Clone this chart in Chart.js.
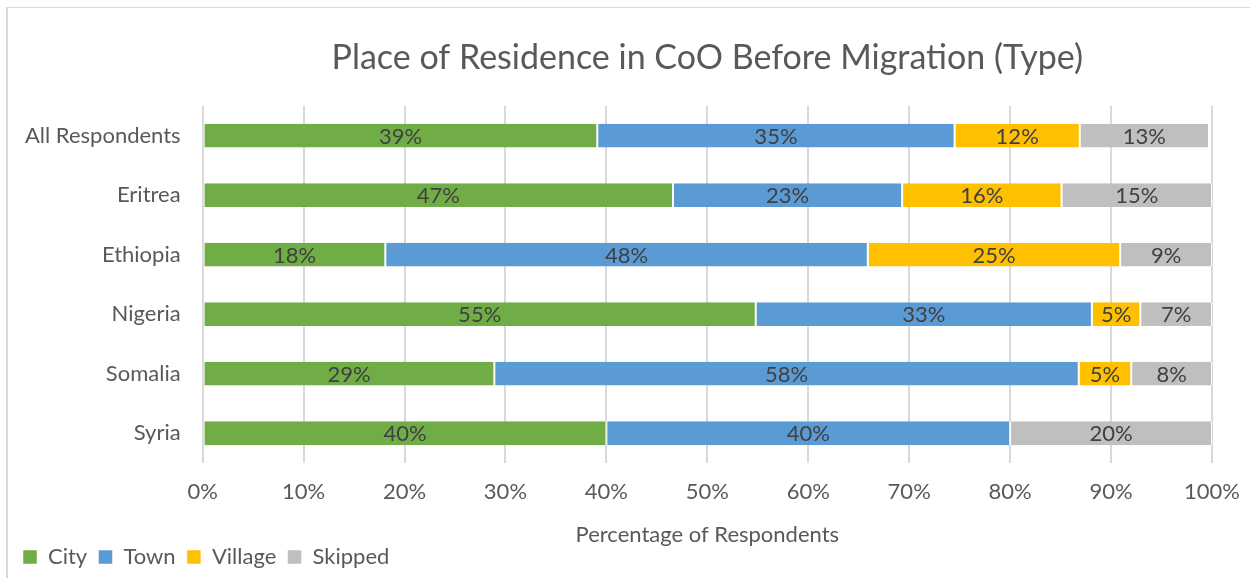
<!DOCTYPE html>
<html>
<head>
<meta charset="utf-8">
<script src="https://cdn.jsdelivr.net/npm/chart.js@4.4.1/dist/chart.umd.min.js"></script>
<style>
  html, body { margin: 0; padding: 0; background: #fff; }
  #wrap { position: relative; width: 1250px; height: 578px; }
  #frame {
    position: absolute; left: 6px; top: 7px; right: 0; bottom: 0;
    border-top: 1px solid #d9d9d9; border-left: 2px solid #d9d9d9;
    pointer-events: none;
  }
  canvas { position: absolute; left: 0; top: 0; }
</style>
</head>
<body>
<div id="wrap">
  <canvas id="chartCanvas" width="1250" height="578"></canvas>
  <div id="frame"></div>
</div>
<script>
// --- data (percent of respondents) ---
const countries = ["All Respondents", "Eritrea", "Ethiopia", "Nigeria", "Somalia", "Syria"];
const city = [39.1, 46.6, 18.1, 54.8, 28.9, 40.0];
const town = [35.4, 22.7, 47.8, 33.3, 57.9, 40.0];
const village = [12.4, 15.8, 25.0, 4.8, 5.2, 0];
const skipped = [12.8, 14.9, 9.1, 7.1, 8.0, 20.0];
const xTicks = [0, 10, 20, 30, 40, 50, 60, 70, 80, 90, 100];

const FONT = "Lato, 'Open Sans', sans-serif";
const canvas = document.getElementById("chartCanvas");

// --- centred percent labels inside each segment ---
const segmentLabels = {
  id: "segmentLabels",
  afterDatasetsDraw(chart) {
    const ctx = chart.ctx;
    ctx.save();
    ctx.font = "22px " + FONT;
    ctx.fillStyle = "#404040";
    ctx.textAlign = "center";
    ctx.textBaseline = "middle";
    chart.data.datasets.forEach((ds, i) => {
      const meta = chart.getDatasetMeta(i);
      if (meta.hidden) return;
      meta.data.forEach((bar, j) => {
        const v = ds.data[j];
        if (!v) return;
        const cx = (bar.x + bar.base) / 2;
        ctx.fillText(Math.round(v) + "%", cx, bar.y + 1);
      });
    });
    ctx.restore();
  }
};

function mkSet(label, data, color) {
  return {
    label,
    data,
    backgroundColor: color,
    borderColor: "#ffffff",
    borderWidth: { left: 1, right: 1, top: 0, bottom: 0 },
    borderSkipped: false,
    categoryPercentage: 1.0,
    barPercentage: 0.4
  };
}

new Chart(canvas, {
  type: "bar",
  data: {
    labels: countries,
    datasets: [
      mkSet("City", city, "#70ad47"),
      mkSet("Town", town, "#5b9bd5"),
      mkSet("Village", village, "#ffc000"),
      mkSet("Skipped", skipped, "#bfbfbf")
    ]
  },
  options: {
    indexAxis: "y",
    responsive: false,
    animation: false,
    layout: { padding: { left: 23, right: 38, top: 0, bottom: 0 } },
    plugins: {
      title: {
        display: true,
        fullSize: false,
        text: "Place of Residence in CoO Before Migration (Type)",
        color: "#595959",
        font: { family: FONT, size: 34, weight: "normal" },
        padding: { top: 38, bottom: 27 }
      },
      legend: {
        position: "bottom",
        align: "start",
        labels: {
          color: "#595959",
          font: { family: FONT, size: 22 },
          boxWidth: 14,
          boxHeight: 14,
          padding: 0,
          useBorderRadius: false,
          generateLabels: chart => Chart.defaults.plugins.legend.labels.generateLabels(chart)
            .map(l => Object.assign(l, { text: l.text + "  " }))
        }
      },
      tooltip: { enabled: false }
    },
    scales: {
      x: {
        stacked: true,
        min: 0,
        max: 100,
        afterBuildTicks: axis => { axis.ticks = xTicks.map(v => ({ value: v })); },
        // the "100%" label may hang into the right padding
        afterFit: axis => { axis.paddingRight = 0; },
        ticks: {
          color: "#595959",
          font: { family: FONT, size: 22, lineHeight: 1 },
          padding: 18,
          callback: v => v + "%"
        },
        grid: { color: "#d9d9d9", lineWidth: 2, drawTicks: false },
        border: { display: false },
        title: {
          display: true,
          text: "Percentage of Respondents",
          color: "#595959",
          font: { family: FONT, size: 22, lineHeight: 1 },
          padding: { top: 3, bottom: 0 }
        }
      },
      y: {
        stacked: true,
        // let the category labels reach into the left padding
        afterFit: axis => { axis.width -= 20; },
        ticks: {
          color: "#595959",
          font: { family: FONT, size: 22 },
          padding: 22
        },
        grid: { display: false, drawTicks: false },
        border: { display: false }
      }
    }
  },
  plugins: [segmentLabels]
});
</script>
</body>
</html>
